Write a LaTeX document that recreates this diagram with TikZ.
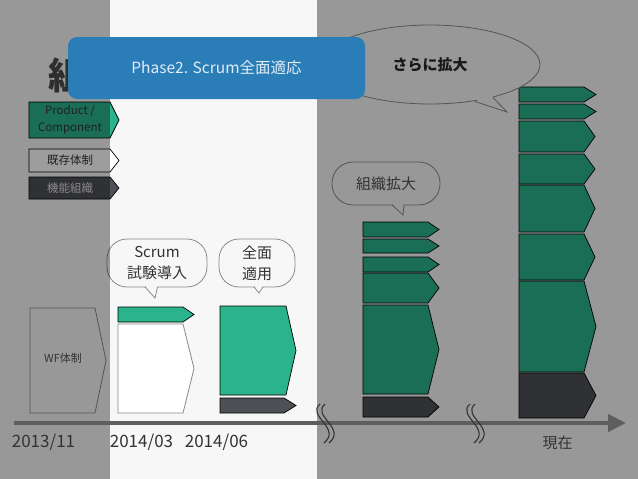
\documentclass[tikz,border=0pt]{standalone}
\usepackage{fontspec}
\setmainfont{Noto Sans CJK JP}
\usetikzlibrary{shapes.geometric,arrows.meta}
\definecolor{bgw}{HTML}{F7F7F7}
\definecolor{scrumgreen}{HTML}{2BB38B}
\definecolor{darkbar}{HTML}{4D5055}
\definecolor{bluebox}{HTML}{2B7DB8}
\definecolor{bluetext}{HTML}{E2EDF6}
\definecolor{bubbleline}{HTML}{8A8A8A}
\definecolor{axisgray}{HTML}{5E5E5E}
\definecolor{txtdark}{HTML}{333333}
\newcommand{\pentbar}[6]{\draw[#1] (#2,#3) -- (#5,#3) -- (#6,{(#3+#4)/2}) -- (#5,#4) -- (#2,#4) -- cycle;}
\newcommand{\squig}[1]{%
  \draw[squigline] (#1+2,404) .. controls (#1-12,416) and (#1+24,428) .. (#1+6,443);
  \draw[squigline] (#1+7,404) .. controls (#1-7,416) and (#1+29,428) .. (#1+11,443);}
\begin{document}
\begin{tikzpicture}[x=1pt,y=-1pt,
  gbar/.style={fill=scrumgreen,draw=black,line width=0.7pt,line join=miter},
  wbar/.style={fill=white,draw=black,line width=0.7pt},
  dbar/.style={fill=darkbar,draw=black,line width=0.7pt},
  graybox/.style={draw=bubbleline,line width=0.8pt},
  bubble/.style={draw=bubbleline,fill=bgw,line width=0.8pt,rounded corners=20pt,inner sep=0pt,align=center,text=txtdark,font=\fontsize{15}{21}\selectfont},
  tailline/.style={draw=bubbleline,line width=0.8pt},
  legtext/.style={inner sep=0pt,align=center,font=\fontsize{11.5}{17}\selectfont},
  datetext/.style={inner sep=0pt,text=txtdark,font=\fontsize{17}{17}\selectfont},
  shade/.style={fill=black,fill opacity=0.385},
  squigline/.style={draw=black!80,line width=1.1pt}]
\useasboundingbox (0,0) rectangle (638,479);
\fill[bgw] (0,0) rectangle (638,479);

% legend
\pentbar{gbar}{29}{102}{138}{110}{119}
\node[legtext,text=txtdark] (lpc) at (70,120) {Product /\\Component};
\pentbar{wbar}{29}{149}{172}{110}{119}
\node[legtext,text=txtdark] (lold) at (70,160.5) {既存体制};
\pentbar{dbar}{29}{177}{199}{110}{119}
\node[legtext,text=black!12] (lfunc) at (70,188) {機能組織};

% WF
\pentbar{graybox}{30}{308}{413}{95}{106}
\node[legtext,text=black!67,font=\fontsize{11}{11}\selectfont] (wf) at (63,358) {WF体制};

% 2014/03
\pentbar{gbar}{118}{307}{322}{183}{194}
\pentbar{graybox,fill=white}{118}{324}{413}{183}{194}

% 2014/06
\pentbar{gbar}{220}{306}{395}{286}{296}
\pentbar{dbar}{220}{398}{413}{284}{296}

% middle stack
\pentbar{gbar}{363}{222}{237}{428}{439}
\pentbar{gbar}{363}{239}{253}{428}{439}
\pentbar{gbar}{363}{257}{272}{428}{439}
\pentbar{gbar}{363}{273}{303}{428}{439}
\pentbar{gbar}{363}{305}{394}{428}{439}
\pentbar{dbar}{363}{397}{417}{428}{439}

% right stack
\pentbar{gbar}{519}{87}{102}{584}{596}
\pentbar{gbar}{519}{104}{119}{584}{596}
\pentbar{gbar}{519}{121}{152}{584}{595}
\pentbar{gbar}{519}{154}{184}{584}{595}
\pentbar{gbar}{519}{185}{232}{584}{595}
\pentbar{gbar}{519}{234}{280}{584}{595}
\pentbar{gbar}{519}{281}{372}{584}{596}
\pentbar{dbar}{519}{373}{418}{584}{596}

% bubbles
\node[bubble,minimum width=100pt,minimum height=48pt] (b1) at (157,263) {Scrum\\試験導入};
\coordinate (t1) at (155,298);
\fill[bgw] (145.5,285.5) -- (t1) -- (157,285.5) -- cycle;
\draw[tailline] (145,287) -- (t1) -- (157.5,287);

\node[bubble,minimum width=76pt,minimum height=48pt] (b2) at (257,263) {全面\\適用};
\coordinate (t2) at (259,293);
\fill[bgw] (254.5,285.5) -- (t2) -- (262.5,285.5) -- cycle;
\draw[tailline] (254,287) -- (t2) -- (263,287);

\node[bubble,minimum width=108pt,minimum height=43pt,rounded corners=21pt,text=black!68] (b3) at (386,183.5) {組織拡大};
\coordinate (t3) at (403,215);
\fill[bgw] (392.5,203.5) -- (t3) -- (403.5,203.5) -- cycle;
\draw[tailline] (392,205) -- (t3) -- (404,205);

\node[ellipse,draw=bubbleline,fill=bgw,line width=0.8pt,minimum width=220pt,minimum height=79pt,inner sep=0pt,text=black!84,font=\fontsize{15}{15}\selectfont\bfseries] (big) at (430,64.5) {さらに拡大};
\coordinate (t4) at (507,112);
\fill[bgw] (475,99.5) -- (t4) -- (492,95.8) -- cycle;
\draw[tailline] (475,101.5) -- (t4) -- (493,97.5);

% shading bands
\fill[shade] (0,0) rectangle (110,479);
\fill[shade] (316.5,0) rectangle (638,479);

% axis
\coordinate (axs) at (14,423);
\coordinate (axe) at (626,423);
\draw[line width=4.2pt,axisgray,-{Triangle[length=18pt,width=17pt]}] (axs) -- (axe);
\squig{318}
\squig{468}

% dates
\node[datetext] (d1) at (43.5,442) {2013/11};
\node[datetext] (d2) at (141.5,442) {2014/03};
\node[datetext] (d3) at (216.5,442) {2014/06};
\node[datetext,font=\fontsize{15}{15}\selectfont] (now) at (557.5,443) {現在};

% title (mostly hidden)
\node[anchor=west,inner sep=0pt,text=black!82,font=\fontsize{37}{37}\selectfont\bfseries] (title) at (48,75) {組};

% phase box
\node[fill=bluebox,rounded corners=9pt,minimum width=297pt,minimum height=62pt,text=bluetext,font=\fontsize{15.5}{15.5}\selectfont] (phase) at (216.5,68) {Phase2. Scrum全面適応};
\end{tikzpicture}
\end{document}
